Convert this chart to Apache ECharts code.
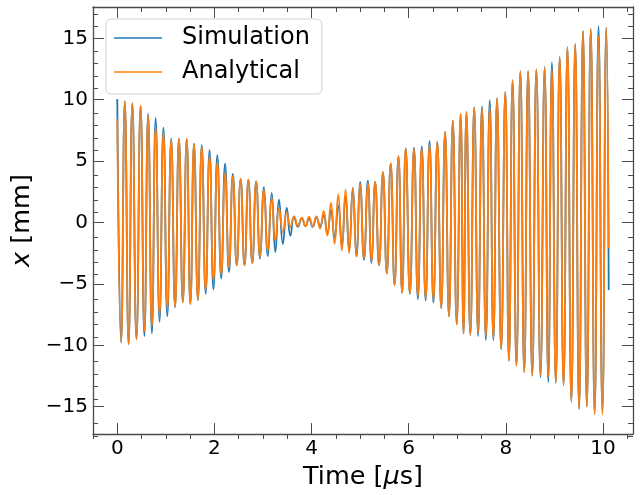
<!DOCTYPE html>
<html>
<head>
<meta charset="utf-8">
<script src="https://cdn.jsdelivr.net/npm/echarts@6/dist/echarts.min.js"></script>
<style>
  html, body { margin: 0; padding: 0; background: #ffffff; }
  #chart { width: 641px; height: 495px; }
</style>
</head>
<body>
<div id="chart"></div>
<script>
// Times of the successive maxima / minima of the oscillation (µs)
const times = [
  0.000, 0.078, 0.155, 0.233, 0.310, 0.395, 0.480, 0.558, 0.635, 0.713,
  0.790, 0.870, 0.950, 1.030, 1.110, 1.190, 1.270, 1.350, 1.430, 1.505,
  1.580, 1.660, 1.740, 1.820, 1.900, 1.980, 2.060, 2.140, 2.220, 2.300,
  2.380, 2.460, 2.540, 2.620, 2.700, 2.780, 2.860, 2.940, 3.020, 3.100,
  3.180, 3.255, 3.330, 3.410, 3.490, 3.565, 3.640, 3.720, 3.800, 3.875,
  3.950, 4.025, 4.100, 4.175, 4.250, 4.325, 4.400, 4.475, 4.550, 4.625,
  4.700, 4.775, 4.850, 4.925, 5.000, 5.080, 5.160, 5.235, 5.310, 5.390,
  5.470, 5.550, 5.630, 5.710, 5.790, 5.865, 5.940, 6.025, 6.110, 6.190,
  6.270, 6.350, 6.430, 6.510, 6.590, 6.670, 6.750, 6.830, 6.910, 6.990,
  7.070, 7.130, 7.190, 7.270, 7.350, 7.430, 7.510, 7.590, 7.670, 7.745,
  7.820, 7.905, 7.990, 8.065, 8.140, 8.220, 8.300, 8.380, 8.460, 8.545,
  8.630, 8.715, 8.800, 8.875, 8.950, 9.030, 9.110, 9.190, 9.270, 9.350,
  9.430, 9.510, 9.590, 9.670, 9.750, 9.830, 9.910, 9.990, 10.070, 10.120
];

// Displacement x (mm) at those times
const simulation = [
  10.05, -9.78, 9.86, -9.91, 9.73, -9.51, 9.51, -9.24, 8.84, -9.03,
  8.52, -8.09, 7.72, -7.64, 6.83, -6.89, 6.83, -6.48, 6.80, -6.64,
  6.43, -6.30, 6.30, -5.81, 5.90, -5.44, 5.49, -4.56, 4.80, -4.02,
  3.95, -3.48, 3.56, -3.48, 3.50, -3.30, 3.35, -2.95, 2.87, -2.73,
  2.41, -2.41, 1.87, -1.74, 1.20, -1.07, 0.50, -0.35, 0.35, -0.30,
  0.30, -0.35, 0.40, -0.30, 0.60, -0.90, 1.00, -1.20, 1.40, -1.90,
  2.10, -2.30, 2.80, -2.76, 3.30, -3.05, 3.40, -3.30, 3.30, -3.48,
  4.10, -4.15, 4.82, -5.09, 5.41, -5.71, 6.03, -5.81, 6.10, -6.24,
  6.20, -6.35, 6.65, -6.51, 6.57, -6.97, 7.37, -7.64, 8.30, -8.30,
  8.84, -9.03, 8.98, -9.16, 9.38, -9.24, 9.46, -9.57, 9.97, -9.57,
  10.10, -10.31, 10.64, -11.25, 11.60, -11.66, 12.32, -12.20, 12.32, -12.46,
  12.46, -12.60, 12.68, -13.00, 13.05, -13.06, 13.48, -13.26, 14.28, -14.60,
  14.55, -15.20, 15.60, -15.00, 15.76, -15.60, 16.02, -15.40, 15.86, -5.50
];

const analytical = [
  8.44, -9.78, 9.86, -9.91, 9.73, -9.51, 9.51, -8.84, 8.70, -8.44,
  7.77, -7.50, 7.29, -6.97, 6.70, -6.89, 6.80, -6.48, 6.80, -6.64,
  6.43, -6.30, 6.16, -5.50, 5.40, -4.69, 4.90, -4.20, 4.00, -3.62,
  3.80, -3.48, 3.56, -3.48, 3.50, -3.30, 3.35, -2.80, 2.68, -2.28,
  2.00, -1.47, 1.20, -0.80, 0.80, -0.35, 0.46, -0.25, 0.40, -0.30,
  0.46, -0.30, 0.50, -0.50, 0.94, -1.07, 1.60, -1.74, 2.28, -2.28,
  2.68, -2.50, 2.81, -2.76, 3.10, -2.90, 3.20, -3.15, 3.30, -3.48,
  4.10, -4.15, 4.82, -5.09, 5.41, -5.71, 6.03, -5.81, 6.00, -5.97,
  6.00, -6.16, 6.30, -6.24, 6.57, -6.97, 7.37, -7.64, 8.30, -8.30,
  8.84, -9.03, 8.98, -9.16, 9.38, -9.00, 9.30, -9.24, 9.38, -9.40,
  10.10, -10.31, 10.64, -11.25, 11.60, -11.66, 12.32, -12.20, 12.32, -12.46,
  12.46, -12.40, 12.60, -12.60, 12.46, -13.06, 13.48, -13.26, 14.28, -14.60,
  14.55, -15.20, 15.60, -15.00, 15.76, -15.60, 15.14, -15.65, 15.86, -2.10
];

const seriesNames = ['Simulation', 'Analytical'];
const seriesColors = ['#1f77b4', '#ff7f0e'];
const xTicks = [0, 2, 4, 6, 8, 10];
const yTicks = [-15, -10, -5, 0, 5, 10, 15];

const xMinorTicks = [];
for (let v = -0.5; v <= 10.5; v += 0.5) if (v % 2 !== 0) xMinorTicks.push(v);
const yMinorTicks = [];
for (let v = -17; v <= 17; v += 1) if (v % 5 !== 0) yMinorTicks.push(v);

const X_MIN = -0.5, X_MAX = 10.62;
const Y_MIN = -17.23, Y_MAX = 17.55;
const FONT = 'DejaVu Sans';
const FRAME = '#4a4a4a';

const minus = v => String(v).replace('-', '\u2212');

function axis(kind, opts) {
  const base = {
    type: 'value',
    gridIndex: opts.grid,
    position: opts.position,
    min: kind === 'x' ? X_MIN : Y_MIN,
    max: kind === 'x' ? X_MAX : Y_MAX,
    splitLine: { show: false },
    axisLine: { show: opts.line, onZero: false, lineStyle: { color: FRAME, width: 1.3 } },
    axisTick: {
      show: true, inside: true, length: opts.tickLen,
      customValues: opts.ticks,
      lineStyle: { color: FRAME, width: 1 }
    },
    axisLabel: opts.labels ? {
      show: true, customValues: opts.ticks, formatter: minus,
      fontSize: 20, fontFamily: FONT, color: '#000', margin: 5
    } : { show: false },
    z: 5
  };
  return Object.assign(base, opts.extra || {});
}

const nameStyle = {
  fontSize: 25.5, fontFamily: FONT, color: '#000',
  rich: { i: { fontSize: 25.5, fontFamily: FONT, fontStyle: 'italic', color: '#000' } }
};

const gridRect = { left: 93, right: 8, top: 7, bottom: 56, containLabel: false };

const option = {
  animation: false,
  backgroundColor: '#ffffff',
  grid: [Object.assign({}, gridRect), Object.assign({}, gridRect)],
  xAxis: [
    axis('x', { grid: 0, position: 'bottom', line: true, tickLen: 11, ticks: xTicks, labels: true,
      extra: { name: 'Time [{i|\u03bc}s]', nameLocation: 'middle', nameGap: 27, nameTextStyle: nameStyle } }),
    axis('x', { grid: 0, position: 'top', line: true, tickLen: 11, ticks: xTicks, labels: false }),
    axis('x', { grid: 1, position: 'bottom', line: false, tickLen: 5, ticks: xMinorTicks, labels: false }),
    axis('x', { grid: 1, position: 'top', line: false, tickLen: 5, ticks: xMinorTicks, labels: false })
  ],
  yAxis: [
    axis('y', { grid: 0, position: 'left', line: true, tickLen: 11, ticks: yTicks, labels: true,
      extra: { name: '{i|x} [mm]', nameLocation: 'middle', nameRotate: 90, nameGap: 49, nameTextStyle: nameStyle } }),
    axis('y', { grid: 0, position: 'right', line: true, tickLen: 11, ticks: yTicks, labels: false }),
    axis('y', { grid: 1, position: 'left', line: false, tickLen: 5, ticks: yMinorTicks, labels: false }),
    axis('y', { grid: 1, position: 'right', line: false, tickLen: 5, ticks: yMinorTicks, labels: false })
  ],
  legend: {
    data: seriesNames.map((n, i) => ({ name: n, icon: 'rect', itemStyle: { color: seriesColors[i] } })),
    orient: 'vertical',
    left: 106, top: 19,
    itemWidth: 48, itemHeight: 1.6, itemGap: 6,
    padding: [5, 12, 8, 8],
    borderColor: '#cfcfcf', borderWidth: 1, borderRadius: 5,
    backgroundColor: 'rgba(255,255,255,0.85)',
    textStyle: { fontSize: 24, lineHeight: 28, fontFamily: FONT, color: '#000', padding: [0, 0, 0, 15] }
  },
  series: seriesNames.map((name, s) => ({
    name: name, type: 'line', xAxisIndex: 0, yAxisIndex: 0,
    data: times.map((t, i) => [t, (s === 0 ? simulation : analytical)[i]]),
    symbol: 'none', smooth: 0.5,
    lineStyle: { color: seriesColors[s], width: 1.8 },
    itemStyle: { color: seriesColors[s] }
  }))
};

const chart = echarts.init(document.getElementById('chart'), null, { renderer: 'canvas' });
chart.setOption(option);
</script>
</body>
</html>
